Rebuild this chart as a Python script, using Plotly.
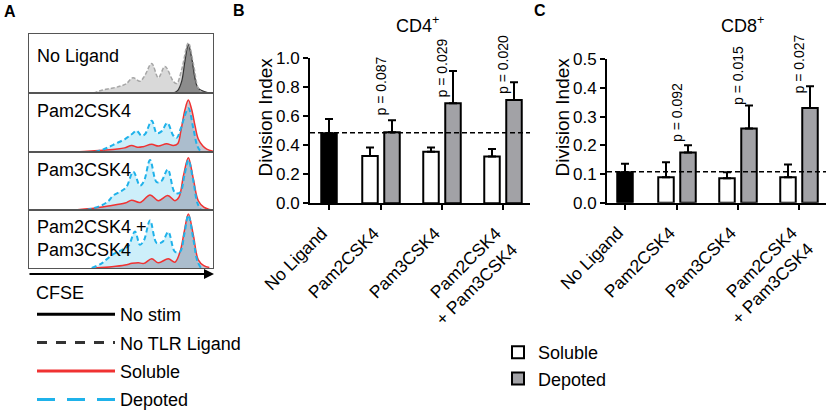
import plotly.graph_objects as go

W, H = 829, 413

# ---- Panel A: CFSE dilution histograms (x = CFSE channel 0-100, y = fraction of box height)
no_tlr_x = [35.0, 40, 45, 50, 53, 56.5, 60.3, 63, 66.7, 70.3, 73.9, 78.4, 80.3, 83, 86.6, 89.3, 92, 94]
no_tlr_y = [0.0, 0.05, 0.08, 0.12, 0.16, 0.26, 0.2, 0.3, 0.5, 0.26, 0.45, 0.2, 0.16, 0.4, 0.85, 0.5, 0.08, 0.01]
no_stim_x = [78.5, 81, 83, 84.8, 86.6, 88.4, 90.2, 92, 95.7, 99]
no_stim_y = [0.0, 0.05, 0.2, 0.55, 0.82, 0.6, 0.25, 0.08, 0.02, 0.0]

pam2_dep_x = [35.9, 40, 43.1, 47, 52.2, 55.8, 58.5, 61, 63, 66.7, 69.4, 72, 75.2, 78.4, 80.3, 82.5, 86.6, 89.3, 91.5, 93.5]
pam2_dep_y = [0.0, 0.04, 0.08, 0.14, 0.22, 0.3, 0.36, 0.28, 0.3, 0.53, 0.32, 0.35, 0.49, 0.28, 0.24, 0.4, 0.74, 0.4, 0.1, 0.0]
pam2_sol_x = [25, 30, 40, 48, 52, 55.8, 59, 62, 66.7, 70.3, 74.8, 78.4, 80.8, 82.5, 84.8, 86.6, 88.4, 90.2, 92, 94.5, 96.6, 100]
pam2_sol_y = [0.0, 0.01, 0.03, 0.05, 0.07, 0.11, 0.08, 0.09, 0.13, 0.1, 0.14, 0.11, 0.14, 0.35, 0.72, 0.88, 0.72, 0.45, 0.22, 0.1, 0.05, 0.01]

pam3_dep_x = [31.3, 35, 39.5, 43, 45.8, 50.4, 53, 56.7, 60.3, 62.5, 65.8, 69.4, 72, 75.4, 79.3, 82.1, 84.5, 86.6, 89.3, 91.5, 93.5]
pam3_dep_y = [0.0, 0.03, 0.08, 0.15, 0.25, 0.33, 0.4, 0.66, 0.42, 0.5, 0.86, 0.48, 0.5, 0.7, 0.3, 0.3, 0.6, 0.86, 0.5, 0.12, 0.0]
pam3_sol_x = [25, 32, 43.1, 52.2, 55.8, 60.3, 65.8, 70.3, 75.4, 79.3, 81.5, 84, 86.6, 89.3, 92, 95, 98, 100]
pam3_sol_y = [0.0, 0.02, 0.07, 0.12, 0.17, 0.13, 0.26, 0.16, 0.25, 0.16, 0.22, 0.6, 0.9, 0.54, 0.16, 0.05, 0.01, 0.0]

combo_dep_x = [34.1, 39.5, 44.9, 50.4, 54, 57.6, 60.3, 62.5, 65.8, 69.4, 72.5, 75.7, 79.3, 82.1, 84.5, 86.6, 89.3, 91.5, 93.5]
combo_dep_y = [0.0, 0.08, 0.22, 0.31, 0.38, 0.63, 0.4, 0.48, 0.82, 0.43, 0.45, 0.62, 0.28, 0.28, 0.6, 0.91, 0.5, 0.12, 0.0]
combo_sol_x = [36, 45, 52.2, 56, 59.4, 62.5, 66.7, 70.3, 75.7, 79.3, 82.1, 84.5, 86.6, 89.3, 92, 95, 98]
combo_sol_y = [0.0, 0.02, 0.05, 0.08, 0.09, 0.08, 0.16, 0.09, 0.16, 0.1, 0.28, 0.65, 0.93, 0.57, 0.14, 0.04, 0.01]

hist_labels = ["No Ligand", "Pam2CSK4", "Pam3CSK4", "Pam2CSK4 +<br>Pam3CSK4"]

# ---- Panels B/C: division index
categories = ["No Ligand", "Pam2CSK4", "Pam3CSK4", "Pam2CSK4<br>+ Pam3CSK4"]

cd4_no_ligand = 0.483
cd4_no_ligand_sd = 0.098
cd4_soluble = [0.326, 0.356, 0.322]
cd4_soluble_sd = [0.058, 0.028, 0.052]
cd4_depoted = [0.490, 0.690, 0.712]
cd4_depoted_sd = [0.082, 0.222, 0.122]
cd4_pvals = ["0.087", "0.029", "0.020"]
cd4_baseline = 0.487

cd8_no_ligand = 0.106
cd8_no_ligand_sd = 0.030
cd8_soluble = [0.089, 0.085, 0.089]
cd8_soluble_sd = [0.052, 0.021, 0.044]
cd8_depoted = [0.175, 0.259, 0.330]
cd8_depoted_sd = [0.025, 0.080, 0.076]
cd8_pvals = ["0.092", "0.015", "0.027"]
cd8_baseline = 0.108

# centre of each rotated p label, in data units
cd4_p_mid = [0.806, 0.93, 0.954]
cd8_p_mid = [0.313, 0.442, 0.482]

FONT = "Liberation Sans, Arial, sans-serif"
RED = "#f03232"
CYAN = "#1fb2ea"
GREY_BAR = "#a2a2a6"


def px_x(px):
    return px / W


def px_y(py):
    return 1 - py / H


fig = go.Figure()

# panel A boxes (top to bottom)
box_edges = [34, 93, 152, 210, 268]
for i in range(4):
    n = "" if i == 0 else str(i + 1)
    fig.layout["xaxis" + n] = dict(domain=[px_x(29), px_x(213)], range=[0, 100], anchor="y" + n,
                                   showline=True, mirror=True, linecolor="#555", linewidth=1,
                                   showticklabels=False, ticks="", showgrid=False, zeroline=False,
                                   automargin=False)
    fig.layout["yaxis" + n] = dict(domain=[px_y(box_edges[i + 1]), px_y(box_edges[i])], range=[0, 1.0],
                                   anchor="x" + n, showline=True, mirror=True, linecolor="#555",
                                   linewidth=1, showticklabels=False, ticks="", showgrid=False,
                                   zeroline=False, automargin=False)

# No ligand box
fig.add_trace(go.Scatter(x=no_tlr_x, y=no_tlr_y, mode="lines", line_shape="spline", fill="tozeroy",
                         fillcolor="#d9d9d9", line=dict(width=0), showlegend=False, xaxis="x", yaxis="y"))
fig.add_trace(go.Scatter(x=no_stim_x, y=no_stim_y, mode="lines", line_shape="spline", fill="tozeroy",
                         fillcolor="#8c8c8c", line=dict(color="#333", width=1.2), showlegend=False,
                         xaxis="x", yaxis="y"))
fig.add_trace(go.Scatter(x=no_tlr_x, y=no_tlr_y, mode="lines", line_shape="spline",
                         line=dict(color="#a6a6a6", width=1.5, dash="4px,2px"), showlegend=False,
                         xaxis="x", yaxis="y"))

# ligand boxes
hist_sets = [(pam2_dep_x, pam2_dep_y, pam2_sol_x, pam2_sol_y),
             (pam3_dep_x, pam3_dep_y, pam3_sol_x, pam3_sol_y),
             (combo_dep_x, combo_dep_y, combo_sol_x, combo_sol_y)]
for k, (dx, dy, sx, sy) in enumerate(hist_sets):
    xa, ya = "x" + str(k + 2), "y" + str(k + 2)
    fig.add_trace(go.Scatter(x=dx, y=dy, mode="lines", line_shape="spline", fill="tozeroy",
                             fillcolor="#cdeffa", line=dict(width=0), showlegend=False, xaxis=xa, yaxis=ya))
    fig.add_trace(go.Scatter(x=sx, y=sy, mode="lines", line_shape="spline", fill="tozeroy",
                             fillcolor="rgba(130,128,150,0.45)", line=dict(color=RED, width=1.5),
                             showlegend=False, xaxis=xa, yaxis=ya))
    fig.add_trace(go.Scatter(x=dx, y=dy, mode="lines", line_shape="spline",
                             line=dict(color=CYAN, width=2, dash="5px,3px"), showlegend=False,
                             xaxis=xa, yaxis=ya))

# line legend for panel A
for name, color, dash, grp in [("No stim", "black", "solid", "a"), ("No TLR Ligand", "#333", "10px,9px", "b"),
                               ("Soluble", RED, "solid", "c"), ("Depoted", CYAN, "18px,12px", "d")]:
    fig.add_trace(go.Scatter(x=[None], y=[None], mode="lines", name=name, legend="legend2",
                             legendgroup=grp, line=dict(color=color, width=3, dash=dash)))

# ---- bar panels
group_pos = [0, 52, 113, 174]
sol_pos = [g - 11 for g in group_pos[1:]]
dep_pos = [g + 11 for g in group_pos[1:]]
bar_w = 15.5


def bar_panel(xa, ya, nolig, nolig_sd, sol, sol_sd, dep, dep_sd, legend):
    err = dict(type="data", symmetric=False, color="black", thickness=2, width=4)
    fig.add_trace(go.Bar(x=[group_pos[0]], y=[nolig], width=bar_w, marker=dict(color="black",
                         line=dict(color="black", width=2)),
                         error_y=dict(err, array=[nolig_sd], arrayminus=[0]), showlegend=False,
                         xaxis=xa, yaxis=ya))
    fig.add_trace(go.Bar(x=sol_pos, y=sol, width=bar_w, name="Soluble",
                         marker=dict(color="white", line=dict(color="black", width=2)),
                         error_y=dict(err, array=sol_sd, arrayminus=[0] * 3), showlegend=legend,
                         legend="legend", xaxis=xa, yaxis=ya))
    fig.add_trace(go.Bar(x=dep_pos, y=dep, width=bar_w, name="Depoted",
                         marker=dict(color=GREY_BAR, line=dict(color="black", width=2)),
                         error_y=dict(err, array=dep_sd, arrayminus=[0] * 3), showlegend=legend,
                         legend="legend", xaxis=xa, yaxis=ya))


bar_panel("x5", "y5", cd4_no_ligand, cd4_no_ligand_sd, cd4_soluble, cd4_soluble_sd,
          cd4_depoted, cd4_depoted_sd, True)
bar_panel("x6", "y6", cd8_no_ligand, cd8_no_ligand_sd, cd8_soluble, cd8_soluble_sd,
          cd8_depoted, cd8_depoted_sd, False)

xcommon = dict(showline=True, linecolor="black", linewidth=2, ticks="outside", ticklen=5, tickwidth=2,
               tickcolor="black", tickvals=group_pos, ticktext=categories, tickangle=-45,
               ticklabelstandoff=6, ticklabelshift=-7,
               tickfont=dict(family=FONT, size=17.5, color="black"), showgrid=False, zeroline=False,
               automargin=False)
ycommon = dict(showline=True, linecolor="black", linewidth=2, ticks="outside", ticklen=5, tickwidth=2,
               tickcolor="black", tickfont=dict(family=FONT, size=17, color="black"), showgrid=False,
               zeroline=False, tickformat=".1f", automargin=False)

fig.update_layout(
    xaxis5=dict(xcommon, domain=[px_x(310), px_x(530)], range=[-19, 201], anchor="y5"),
    yaxis5=dict(ycommon, domain=[px_y(203.3), px_y(58.3)], range=[0, 1.0], dtick=0.2, anchor="x5"),
    xaxis6=dict(xcommon, domain=[px_x(607), px_x(826)], range=[-18, 201], anchor="y6"),
    yaxis6=dict(ycommon, domain=[px_y(202.7), px_y(59.3)], range=[0, 0.5], dtick=0.1, anchor="x6"),
)

for xa, ya, base in [("x5", "y5", cd4_baseline), ("x6", "y6", cd8_baseline)]:
    fig.add_shape(type="line", xref=xa + " domain", yref=ya, x0=0, x1=1, y0=base, y1=base,
                  line=dict(color="black", width=1.5, dash="5px,3px"))

for xa, ya, pvals, mids in [("x5", "y5", cd4_pvals, cd4_p_mid), ("x6", "y6", cd8_pvals, cd8_p_mid)]:
    for g, p, m in zip(group_pos[1:], pvals, mids):
        fig.add_annotation(x=g, y=m, xref=xa, yref=ya, text="p = " + p, textangle=-90, showarrow=False,
                           xanchor="center", yanchor="middle", font=dict(family=FONT, size=14, color="black"))

# y-axis titles (sit a little above the axis centre, as in the original)
for xp in (265, 562):
    fig.add_annotation(x=px_x(xp), y=px_y(117.5), xref="paper", yref="paper", text="Division Index",
                       textangle=-90, showarrow=False, xanchor="center", yanchor="middle",
                       font=dict(family=FONT, size=19, color="black"))

annots = [
    dict(x=9.5, y=11.5, text="<b>A</b>", size=16),
    dict(x=239, y=10, text="<b>B</b>", size=16),
    dict(x=540, y=10, text="<b>C</b>", size=16),
    dict(x=417, y=25, text="CD4<sup>+</sup>", size=18),
    dict(x=742, y=25, text="CD8<sup>+</sup>", size=18),
]
for a in annots:
    fig.add_annotation(x=px_x(a["x"]), y=px_y(a["y"]), xref="paper", yref="paper", text=a["text"],
                       showarrow=False, xanchor="center", yanchor="middle",
                       font=dict(family=FONT, size=a["size"], color="black"))

label_y = [56, 111, 170, 238]
for lab, yy in zip(hist_labels, label_y):
    fig.add_annotation(x=px_x(35), y=px_y(yy), xref="paper", yref="paper", text=lab, showarrow=False,
                       xanchor="left", yanchor="middle", align="left",
                       font=dict(family=FONT, size=18, color="black"))

fig.add_annotation(x=px_x(34), y=px_y(293), xref="paper", yref="paper", text="CFSE", showarrow=False,
                   xanchor="left", yanchor="middle", font=dict(family=FONT, size=18, color="black"))
fig.add_annotation(x=px_x(214), y=px_y(274), xref="paper", yref="paper", text="", showarrow=True,
                   ax=-186, ay=0, arrowhead=2, arrowsize=1, arrowwidth=2, arrowcolor="black", standoff=0)

fig.update_layout(
    width=W, height=H, margin=dict(l=0, r=0, t=0, b=0, autoexpand=False),
    paper_bgcolor="white", plot_bgcolor="white",
    font=dict(family=FONT, size=18, color="black"),
    barmode="overlay", showlegend=True,
    legend=dict(x=px_x(498), y=px_y(334), xanchor="left", yanchor="top", bgcolor="rgba(0,0,0,0)",
                font=dict(family=FONT, size=18), tracegroupgap=0),
    legend2=dict(x=px_x(32), y=px_y(296), xanchor="left", yanchor="top", bgcolor="rgba(0,0,0,0)",
                 font=dict(family=FONT, size=18), itemwidth=78, tracegroupgap=2),
)

fig.write_html("out.html", config={"displayModeBar": False},
               post_script="document.body.style.margin = '0';")
